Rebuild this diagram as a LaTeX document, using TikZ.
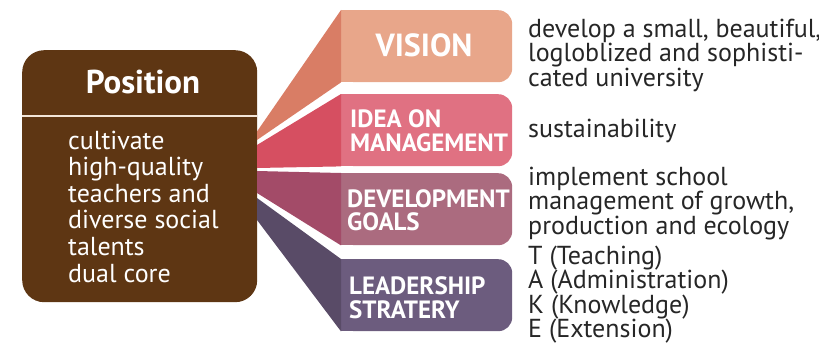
\documentclass[tikz,border=0pt]{standalone}
\usepackage{fontspec}
\setmainfont{PT Sans}
\definecolor{posbrown}{HTML}{5E3613}
\definecolor{divline}{HTML}{F3E5D8}
\definecolor{visbox}{HTML}{E8A68A}
\definecolor{visfan}{HTML}{D97D65}
\definecolor{ideabox}{HTML}{E07182}
\definecolor{ideafan}{HTML}{D64F61}
\definecolor{devbox}{HTML}{AB6B7F}
\definecolor{devfan}{HTML}{A34B68}
\definecolor{leadbox}{HTML}{6C5C7E}
\definecolor{leadfan}{HTML}{594B67}
\tikzset{
  catbox/.style={rounded corners=14pt, minimum width=171pt, minimum height=72pt, inner sep=0pt, anchor=north west},
  bodytxt/.style={font=\fontsize{26}{24.5}\selectfont, align=left, inner sep=0pt, anchor=base west, text=black!85},
  postxt/.style={font=\fontsize{26}{26.6}\selectfont, align=left, inner sep=0pt, anchor=base west, text=white},
  labtxt/.style={font=\fontsize{25}{23.5}\selectfont\bfseries, align=left, inner sep=0pt, anchor=base west, text=white},
}
\begin{document}
\begin{tikzpicture}[x=1pt,y=-1pt]
\useasboundingbox (0,0) rectangle (819,361);
% category boxes
\node[catbox, fill=visbox] (vb) at (341,10) {};
\node[catbox, fill=ideabox] (ib) at (341,94) {};
\node[catbox, fill=devbox] (db) at (341,173) {};
\node[catbox, fill=leadbox] (lb) at (341,259) {};
\fill[visbox] (vb.north west) rectangle (vb.south);
\fill[ideabox] (ib.north west) rectangle (ib.south);
\fill[devbox] (db.north west) rectangle (db.south);
\fill[leadbox] (lb.north west) rectangle (lb.south);
% position box
\node[fill=posbrown, rounded corners=22pt, minimum width=235pt, minimum height=252pt, inner sep=0pt, anchor=north west] (pos) at (22,50) {};
\coordinate (va) at (257,131.5);
\coordinate (vz) at (257,140);
\coordinate (ia) at (257,145);
\coordinate (iz) at (257,168);
\coordinate (da) at (257,171);
\coordinate (dz) at (257,193);
\coordinate (la) at (257,198);
\coordinate (lz) at (257,220);
% fans
\fill[visfan] (va) -- (vb.north west) -- (vb.south west) -- (vz) -- cycle;
\fill[ideafan] (ia) -- (ib.north west) -- (ib.south west) -- (iz) -- cycle;
\fill[devfan] (da) -- (db.north west) -- (db.south west) -- (dz) -- cycle;
\fill[leadfan] (la) -- (lb.north west) -- (lb.south west) -- (lz) -- cycle;
\draw[divline, line width=2pt] (pos.west |- 0,116) -- (pos.east |- 0,116);
% position texts (base anchor = baseline of last line)
\node[font=\fontsize{33}{33}\selectfont\bfseries, text=white, inner sep=0pt, anchor=base] (ptitle) at (143,93) {Position};
\node[postxt] (pbody) at (68,282) {cultivate\\high-quality\\teachers and\\diverse social\\talents\\dual core};
% labels
\node[font=\fontsize{32}{32}\selectfont\bfseries, text=white, inner sep=0pt, anchor=base] (vl) at (424,57) {VISION};
\node[labtxt] (il) at (350,151) {IDEA ON\\MANAGEMENT};
\node[labtxt] (dl) at (347,230.5) {DEVELOPMENT\\GOALS};
\node[labtxt] (ll) at (349,318) {LEADERSHIP\\STRATERY};
% descriptions
\node[bodytxt] (vt) at (528,86) {develop a small, beautiful,\\logloblized and sophisti-\\cated university};
\node[bodytxt] (it) at (528,137) {sustainability};
\node[bodytxt] (dt) at (528,234) {implement school\\management of growth,\\production and ecology};
\node[bodytxt] (lt) at (528,337.5) {T (Teaching)\\A (Administration)\\K (Knowledge)\\E (Extension)};
\end{tikzpicture}
\end{document}
